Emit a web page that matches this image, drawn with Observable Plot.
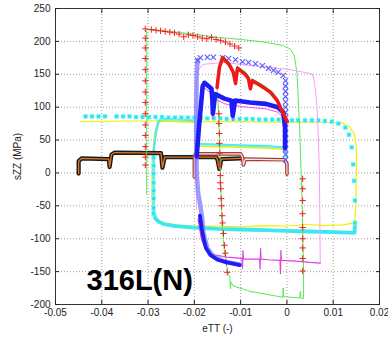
<!DOCTYPE html>
<html><head><meta charset="utf-8">
<script src="https://cdn.jsdelivr.net/npm/d3@7"></script>
<script src="https://cdn.jsdelivr.net/npm/@observablehq/plot@0.6"></script>
<style>html,body{margin:0;padding:0;background:#fff;} #chart{width:388px;height:337px;}</style>
</head><body><div id="chart"></div>
<script>
const xTicks = [-0.05,-0.04,-0.03,-0.02,-0.01,0,0.01,0.02];
const xTickLabels = ["-0.05","-0.04","-0.03","-0.02","-0.01","0","0.01","0.02"];
const yTicks = [-200,-150,-100,-50,0,50,100,150,200,250];
const xLabel = "eTT (-)";
const yLabel = "sZZ (MPa)";
const materialLabel = "316L(N)";

// green thin loop
const greenX = [-0.0303,-0.0303,-0.0250,-0.0200,-0.0150,-0.0100,-0.0050,-0.0010,0.0008,0.0016,0.0022,0.0028,0.0033,0.0036,0.0036,0.0030,0.0029,0.0028,-0.0008,-0.0008,-0.0009,-0.0080,-0.0115,-0.0121,-0.0122,-0.0123,-0.0128,-0.0135,-0.0140,-0.0143,-0.0145,-0.0148,-0.0151];
const greenY = [-32,218,215,211,206,203,199,194,188,178,150,60,-50,-150,-191,-190,-180,-190,-188,-175,-189,-180,-172,-166,-176,-160,-150,-120,-80,-20,40,100,130];

// red "+" markers
const redPlusX = [-0.0306,-0.0306,-0.0306,-0.0306,-0.0306,-0.0306,-0.0306,-0.0306,-0.0306,-0.0306,-0.0306,-0.0306,-0.0306,-0.0306,
  -0.0293,-0.0283,-0.0273,-0.0263,-0.0253,-0.0243,-0.0233,-0.0223,-0.0213,-0.0203,-0.0193,-0.0183,-0.0173,-0.0163,-0.0153,-0.0143,-0.0133,-0.0123,-0.0113,-0.0104,
  -0.0147,-0.0147,-0.0146,-0.0146,-0.0145,-0.0145,-0.0144,-0.0144,-0.0143,-0.0142,-0.0141,-0.0140,-0.0139,-0.0137,-0.0135,-0.0133,-0.0131,-0.0129,
  0.0034,0.0034,0.0034,0.0034,0.0034,0.0034,0.0034,0.0034,0.0034];
const redPlusY = [219,205,190,174,157,140,123,107,90,73,57,40,24,12,
  218,217,216,215,214,213,211,207,210,209,207,205,204,206,203,201,199,196,193,190,
  90,75,60,45,30,12,-4,-15,-24,-39,-50,-65,-76,-92,-110,-122,-136,-151,
  -9,-24,-42,-62,-83,-100,-114,-130,-149];

// red thick zigzag
const redThickX = [-0.0151,-0.0146,-0.0139,-0.0125,-0.0116,-0.0111,-0.0107,-0.0090,-0.0083,-0.0079,-0.0075,-0.0060,-0.0051,-0.0035,-0.0021,-0.0008,0.0001];
const redThickY = [130,160,175,165,153,136,159,150,143,128,140,134,130,122,110,90,78];

// blue "x" markers
const blueXx = [-0.0193,-0.0187,-0.0172,-0.0159,-0.0139,-0.0126,-0.0111,-0.0096,-0.0083,-0.0068,-0.0053,-0.0040,-0.0029,-0.0019,-0.0008,
  -0.0003,-0.0003,-0.0003,-0.0003,-0.0003,-0.0003,-0.0003,-0.0003,-0.0003,-0.0003,-0.0003,-0.0003,-0.0003,-0.0003,-0.0003,-0.0003];
const blueXy = [171,175,176,176,175,174,172,169,168,166,163,159,156,153,148,
  140,132,124,116,108,100,92,84,76,68,60,52,44,36,28,20];

// lavender band (dense x column)
const bandX = [-0.0193,-0.0195,-0.0196,-0.0196,-0.0195,-0.0192,-0.0187,-0.0183,-0.0180,-0.0172,-0.0160,-0.0138,-0.0102];
const bandY = [172,150,100,50,0,-30,-50,-70,-92,-114,-126,-134,-139];

// dark blue thick
const dBlueX = [-0.0195,-0.0190,-0.0182,-0.0178,-0.0163,-0.0161,-0.0160,-0.0155,-0.0135,-0.0120,-0.0117,-0.0112,-0.0080,-0.0045,-0.0020,-0.0008,-0.0004,-0.0004];
const dBlueY = [25,70,132,137,128,110,90,120,113,110,87,110,107,105,100,92,69,38];
const dBlueLowX = [-0.0188,-0.0184,-0.0180,-0.0175,-0.0165,-0.0150,-0.0130,-0.0102];
const dBlueLowY = [-65,-85,-100,-114,-125,-132,-136,-140];

// pink loop (top) and magenta (bottom, with spikes)
const pinkX = [-0.0195,-0.0196,-0.0196,-0.0193,-0.0182,-0.0135,-0.0075,-0.0030,0.0007,0.0045,0.0055,0.0058,0.0061,0.0065,0.0068,0.0070,0.0071,0.0072];
const pinkY = [-55,60,130,155,165,168,163,160,157,152,150,143,130,100,54,4,-60,-137];
const magX = [0.0072,0.0050,0.0020,-0.0012,-0.0013,-0.0014,-0.0015,-0.0040,-0.0056,-0.0057,-0.0058,-0.0059,-0.0094,-0.0095,-0.0096,-0.0097,-0.0130,-0.0160,-0.0175,-0.0185,-0.0192];
const magY = [-137,-136,-134,-133,-118,-153,-133,-132,-131,-115,-146,-131,-131,-118,-145,-130,-128,-124,-117,-100,-70];

// cyan squares
const cyanSqX = [-0.0435,-0.0421,-0.0407,-0.0393,-0.0368,-0.0354,-0.0340,-0.0326,-0.0312,-0.0298,-0.0284,-0.0270,-0.0256,-0.0242,-0.0228,-0.0214,-0.0200,-0.0186,-0.0172,-0.0158,-0.0144,-0.0130,-0.0116,-0.0102,-0.0088,-0.0074,-0.0060,-0.0046,-0.0032,-0.0018,-0.0004,0.0011,0.0024,0.0039,0.0054,0.0068,0.0082,0.0097,0.0111,0.0126,0.0134,0.0140,0.0143,0.0145,0.0147,0.0147,
  -0.0288,-0.0288,-0.0288,-0.0288,-0.0288,-0.0288,-0.0288,-0.0288];
const cyanSqY = [86,86,86,86,86,86,86,85,85,85,85,85,84,84,84,84,84,83,83,83,83,82,82,82,82,82,81,81,81,81,80,80,80,80,80,80,79,78,75,69,58,39,13,-12,-42,-76,
  23,11,-1,-15,-27,-39,-53,-62];
const cyanBotX = [0.0147,0.0146,0.0100,0.0050,0.0000,-0.0050,-0.0100,-0.0150,-0.0200,-0.0240,-0.0265,-0.0278,-0.0285,-0.0288];
const cyanBotY = [-80,-91,-90,-89,-88,-87,-86,-85,-83,-81,-78,-74,-68,-58];
const cyanInX = [-0.0288,-0.0288,-0.0287,-0.0283,-0.0278,-0.0272,-0.0230,-0.0200,-0.0195,-0.0194,-0.0190,-0.0150,-0.0100,-0.0050,-0.0010,-0.0002,-0.0001];
const cyanInY = [-58,25,40,62,78,82,81,80,76,50,44,43,42,41,39,32,25];

// yellow loop
const yellowX = [-0.0445,-0.0350,-0.0300,-0.0250,-0.0200,-0.0100,0.0000,0.0080,0.0120,0.0135,0.0145,0.0150,0.0150,0.0149,0.0146,0.0120,0.0080,0.0040,0.0000,-0.0050,-0.0100,-0.0150,-0.0200,-0.0240,-0.0265,-0.0280,-0.0288,-0.0292,-0.0291,-0.0286,-0.0279];
const yellowY = [78,79,79,79,78,78,77,77,76,70,60,40,0,-50,-76,-79,-80,-78,-81,-80,-82,-81,-81,-79,-76,-70,-60,-40,20,60,76];

// black/orange steps and brown steps
const blackX = [-0.0450,-0.0450,-0.0444,-0.0385,-0.0383,-0.0379,-0.0372,-0.0272,-0.0269,-0.0264,-0.0200,-0.0153,-0.0150,-0.0146,-0.0142,-0.0100];
const blackY = [-1,18,22,21,9,28,31,30,8,24,24,24,20,6,21,22];
const brownX = [-0.0200,-0.0200,-0.0196,-0.0100,-0.0096,-0.0094,-0.0090,-0.0005,0.0000,0.0000];
const brownY = [-6,26,29,29,24,12,21,20,14,-2];

const pts = (xs, ys) => xs.map((x, i) => ({x, y: ys[i]}));
const green = pts(greenX, greenY), redPlus = pts(redPlusX, redPlusY), redThick = pts(redThickX, redThickY);
const blueX = pts(blueXx, blueXy), band = pts(bandX, bandY), dBlue = pts(dBlueX, dBlueY), dBlueLow = pts(dBlueLowX, dBlueLowY);
const pink = pts(pinkX, pinkY), mag = pts(magX, magY);
const cyanSq = pts(cyanSqX, cyanSqY), cyanBot = pts(cyanBotX, cyanBotY), cyanIn = pts(cyanInX, cyanInY);
const yellow = pts(yellowX, yellowY), black = pts(blackX, blackY), brown = pts(brownX, brownY);

const L = (data, o) => Plot.line(data, {x: "x", y: "y", curve: "linear", strokeLinejoin: "round", ...o});

const chart = Plot.plot({
  width: 388, height: 337,
  marginLeft: 55, marginRight: 9, marginTop: 8, marginBottom: 33,
  style: {fontFamily: "'Liberation Sans', Arial, sans-serif", fontSize: "10px", background: "#fff", color: "#222"},
  x: {domain: [-0.05, 0.02]},
  y: {domain: [-200, 250]},
  marks: [
    Plot.gridX(xTicks, {stroke: "#888", strokeOpacity: 0.8, strokeDasharray: "1,2"}),
    Plot.gridY(yTicks, {stroke: "#888", strokeOpacity: 0.8, strokeDasharray: "1,2"}),
    L(yellow, {stroke: "#f2f200", strokeWidth: 1.2}),
    L(cyanIn, {stroke: "#e6f000", strokeWidth: 1.5, dy: 2}),
    L(cyanBot, {stroke: "#3ee6f2", strokeWidth: 3.8}),
    L(cyanIn, {stroke: "#50ecf4", strokeWidth: 2.3}),
    Plot.dot(cyanSq, {x: "x", y: "y", symbol: "square", r: 2.3, fill: "#2ee2f0", stroke: "#9ff", strokeWidth: 0.6}),
    L(black, {stroke: "#1a1a1a", strokeWidth: 4.2}),
    L(black, {stroke: "#e07a2a", strokeWidth: 1.3}),
    L(brown, {stroke: "#a83a34", strokeWidth: 3.6}),
    L(brown, {stroke: "#f3e8e8", strokeWidth: 1.2}),
    L(green, {stroke: "#4ce64c", strokeWidth: 1, strokeDasharray: "3,1"}),
    Plot.dot(redPlus, {x: "x", y: "y", symbol: "plus", r: 2.2, stroke: "#f02020", strokeWidth: 1}),
    L(pink, {stroke: "#ff99ff", strokeWidth: 1}),
    L(mag, {stroke: "#e040e0", strokeWidth: 1.2}),
    L(band, {stroke: "#8282ff", strokeWidth: 4.5, strokeOpacity: 0.8}),
    Plot.dot(blueX, {x: "x", y: "y", symbol: "times", r: 2.5, stroke: "#5a5aff", strokeWidth: 1.1}),
    L(dBlue, {stroke: "#ff40ff", strokeWidth: 1, dy: 5}),
    L(dBlue, {stroke: "#1c1cf6", strokeWidth: 4.6}),
    L(dBlueLow, {stroke: "#1c1cf6", strokeWidth: 3.8}),
    L(redThick, {stroke: "#33dd33", strokeWidth: 2, dy: -1.5}),
    L(redThick, {stroke: "#f01818", strokeWidth: 3.5}),
    Plot.frame({stroke: "#333"}),
    Plot.axisX({anchor: "bottom", ticks: xTicks, tickSize: -4, tickPadding: 8, tickFormat: (d, i) => xTickLabels[i],
      label: xLabel, labelAnchor: "center", labelArrow: "none", labelOffset: 27}),
    Plot.axisX({anchor: "top", ticks: xTicks, tickSize: -4, tickFormat: () => "", label: null}),
    Plot.axisY({anchor: "left", ticks: yTicks, tickSize: -4, tickPadding: 9, tickFormat: d => String(d),
      label: yLabel, labelAnchor: "center", labelArrow: "none", labelOffset: 42}),
    Plot.axisY({anchor: "right", ticks: yTicks, tickSize: -4, tickFormat: () => "", label: null}),
    Plot.text([materialLabel], {frameAnchor: "bottom-left", dx: 31, dy: -15, text: d => d, fontSize: 29, fontWeight: "bold",
      textAnchor: "start", lineAnchor: "bottom", fill: "#000", fontFamily: "'Liberation Sans', Arial, sans-serif"})
  ]
});
document.getElementById("chart").append(chart);
</script></body></html>
